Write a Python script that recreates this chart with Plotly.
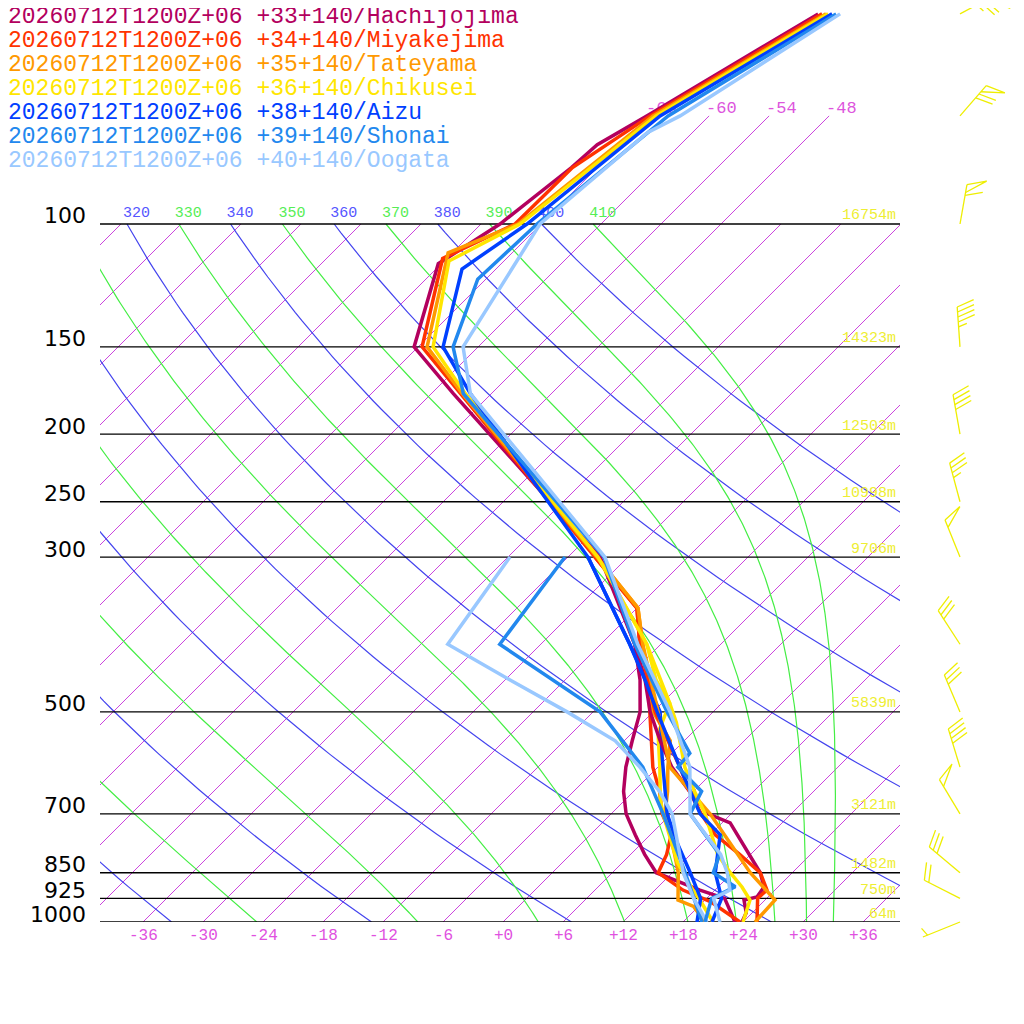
import numpy as np
import plotly.graph_objects as go

SKEW = 69.8
def sx(T, p):
    return np.asarray(T, float) + SKEW*np.log10(1000.0/np.asarray(p, float))

names = ["Hachijojima","Miyakejima","Tateyama","Chikusei","Aizu","Shonai","Oogata"]
codes = ["+33+140","+34+140","+35+140","+36+140","+38+140","+39+140","+40+140"]
colors = ["#b3005e","#ff3300","#ff9900","#ffe600","#0040ff","#2288ee","#99c8ff"]

# temperature profiles (hPa, degC)
hachi_p = [1000,970,930,921,891,850,721,700,650,600,550,500,450,400,350,300,175,150,114,100,83,77,70,50]
hachi_t = [23.9,23.4,21.9,22.9,22.6,20.8,12.8,9.7,5.6,1.4,-2.4,-6.3,-10.0,-14.6,-20.1,-26.8,-57.8,-66.4,-72.3,-70.1,-68.6,-68.3,-66.2,-59.3]
miya_p = [1000,925,900,850,800,750,700,650,600,550,500,450,400,355,300,170,150,112,100,83,70,50]
miya_t = [25.4,23.1,23.2,20.8,16.9,12.5,9.0,5.6,2.2,-1.6,-5.8,-9.7,-14.1,-18.0,-27.3,-58.6,-65.6,-72.4,-68.6,-68.5,-65.9,-58.9]
tate_p = [1000,930,850,700,600,500,400,355,300,175,150,110,100,70,50]
tate_t = [25.2,25.0,19.8,9.9,1.2,-5.5,-13.8,-17.9,-27.1,-56.9,-65.1,-72.4,-68.3,-65.6,-58.5]
chiku_p = [1000,930,891,850,800,700,650,600,518,486,450,400,300,175,150,113,100,70,50]
chiku_t = [24.0,22.5,20.4,17.8,14.7,9.4,6.1,2.7,-2.6,-5.2,-8.9,-13.4,-27.0,-56.6,-64.5,-71.5,-68.1,-65.3,-58.3]
aizu_p = [1000,925,850,750,700,600,500,450,400,300,175,150,116,100,70,50]
aizu_t = [20.9,19.5,16.3,13.0,8.9,2.2,-5.6,-10.0,-15.1,-28.0,-56.1,-63.5,-69.4,-67.4,-64.9,-57.9]
shon_p = [1000,925,890,850,800,700,650,600,573,500,400,300,175,150,120,100,70,50]
shon_t = [20.2,18.5,19.7,16.1,14.9,7.9,6.8,2.0,1.8,-4.6,-14.6,-26.4,-56.8,-62.5,-66.8,-66.4,-64.1,-57.5]
ooga_p = [1000,925,900,850,800,700,600,500,400,300,175,150,100,74,70,50]
ooga_t = [21.7,18.7,19.5,17.5,15.0,7.9,3.2,-4.3,-14.3,-26.3,-56.1,-61.5,-66.1,-64.5,-62.9,-57.1]

# dewpoint profiles (hPa, degC)
hachi_dp = [1000,925,900,850,800,750,700,650,600,550,500,450,400,300]
hachi_td = [23.2,19.8,16.5,10.4,7.4,4.5,1.5,-1.0,-3.2,-5.2,-7.3,-10.5,-14.6,-26.8]
miya_dp = [1000,935,900,850,800,750,700,650,600,500,450,400,355,300]
miya_td = [23.7,18.7,14.8,10.6,9.6,8.1,5.1,2.6,-0.5,-6.3,-9.7,-14.1,-18.0,-27.3]
tate_dp = [1000,950,930,850,800,700,650,600,550,500,400,355,300]
tate_td = [20.2,17.5,15.3,12.6,10.4,5.4,3.4,1.0,-1.4,-6.0,-13.8,-17.9,-27.1]
chiku_dp = [1000,930,900,822,700,668,600,536,486,400,300]
chiku_td = [21.0,17.5,15.8,11.5,5.2,3.5,0.2,-3.4,-5.2,-13.4,-27.0]
aizu_dp = [1000,925,850,772,700,580,500,400,300]
aizu_td = [19.4,17.4,13.8,9.6,5.6,-0.6,-5.3,-15.1,-28.0]
shon_dp = [1000,925,850,700,600,500,400,300]
shon_td = [19.9,16.7,13.3,5.2,-1.5,-11.3,-28.1,-30.3]
ooga_dp = [1000,925,850,700,650,600,550,500,450,400,300]
ooga_td = [20.4,16.7,13.1,6.1,2.6,-1.8,-6.9,-14.6,-23.5,-33.3,-35.8]

T_P = [hachi_p,miya_p,tate_p,chiku_p,aizu_p,shon_p,ooga_p]
T_V = [hachi_t,miya_t,tate_t,chiku_t,aizu_t,shon_t,ooga_t]
D_P = [hachi_dp,miya_dp,tate_dp,chiku_dp,aizu_dp,shon_dp,ooga_dp]
D_V = [hachi_td,miya_td,tate_td,chiku_td,aizu_td,shon_td,ooga_td]

std_levels = [100,150,200,250,300,500,700,850,925,1000]
heights = ["16754m","14323m","12503m","10998m","9706m","5839m","3121m","1482m","750m","64m"]
t_ticks = [-36,-30,-24,-18,-12,-6,0,6,12,18,24,30,36]
iso_labels = [-66,-60,-54,-48]
dry_thetas = list(range(200,420,20))
moist_thetas = list(range(190,430,20))

wind_p = [50,70,100,150,200,250,300,400,500,600,700,850,925,1000]
wind_dir = [62,41,10,356,350,345,338,327,337,343,329,310,297,248]
wind_kt = [75,70,60,45,40,35,50,30,30,40,50,30,20,5]

OFF, W = 8, 1008
def px(P): return (P - OFF)/W
def py(P): return 1 - (P - OFF)/W
def ypix(p): return 224 + 698*(np.log10(p) - 2)

fig = go.Figure()
pp = np.logspace(np.log10(1000), np.log10(100), 80)

for T in range(-120, 46, 6):
    ptop = 70 if -66 <= T <= -48 else 100
    pl = np.logspace(3, np.log10(ptop), 40)
    fig.add_trace(go.Scatter(x=sx(T, pl), y=pl, mode="lines", line=dict(color="#cc44dd", width=1), hoverinfo="skip"))
for th in dry_thetas:
    T = th*(pp/1000.0)**0.2857 - 273.15
    fig.add_trace(go.Scatter(x=sx(T, pp), y=pp, mode="lines", line=dict(color="#4444ee", width=1.2), hoverinfo="skip"))
Rd, Cp, Lv, eps = 287.04, 1005.7, 2.501e6, 0.622
def rs(T, p):
    es = 6.112*np.exp(17.67*(T-273.15)/(T-29.65))
    return eps*es/(p-es)
def dTdp(T, p):
    r = rs(T, p)
    return (1.0/p)*(Rd*T + Lv*r)/(Cp + Lv*Lv*r*eps/(Rd*T*T))
for th in moist_thetas:
    T = th*(0.1)**0.2857
    ps = [100.0]; Ts = [T]
    p = 100.0
    while p < 1000:
        dp = min(2.0, 1000 - p)
        k1 = dTdp(T, p); k2 = dTdp(T + 0.5*dp*k1, p + 0.5*dp)
        k3 = dTdp(T + 0.5*dp*k2, p + 0.5*dp); k4 = dTdp(T + dp*k3, p + dp)
        T += dp*(k1 + 2*k2 + 2*k3 + k4)/6; p += dp
        ps.append(p); Ts.append(T)
    ps = np.array(ps); Ts = np.array(Ts) - 273.15
    fig.add_trace(go.Scatter(x=sx(Ts, ps), y=ps, mode="lines", line=dict(color="#44ee44", width=1.2), hoverinfo="skip"))
for p in std_levels:
    fig.add_trace(go.Scatter(x=[-40.3, 39.7], y=[p, p], mode="lines", line=dict(color="black", width=1.3), hoverinfo="skip"))

ylab = 10**(2 - 11/698)
for ths, col in ((dry_thetas, "#5555ff"), (moist_thetas, "#55ee55")):
    for th in ths:
        T = th*0.1**0.2857 - 273.15
        fig.add_trace(go.Scatter(x=[sx(T, 100)-0.4], y=[ylab], mode="text", text=[str(th)], textposition="middle right",
                                 textfont=dict(family="Liberation Mono", size=15, color=col), hoverinfo="skip"))
for T in iso_labels:
    fig.add_trace(go.Scatter(x=[sx(T, 70)-0.3], y=[68.3], mode="text", text=["-%d" % (-T)],
                             textposition="middle right", textfont=dict(family="Liberation Mono", size=17, color="#dd55dd"), hoverinfo="skip"))

for i in range(7):
    fig.add_trace(go.Scatter(x=sx(D_V[i], D_P[i]), y=D_P[i], mode="lines", line=dict(color=colors[i], width=3.5), hoverinfo="skip"))
for i in range(7):
    fig.add_trace(go.Scatter(x=sx(T_V[i], T_P[i]), y=T_P[i], mode="lines", line=dict(color=colors[i], width=3.5), hoverinfo="skip"))

bx, by = [], []
for p, d, s in zip(wind_p, wind_dir, wind_kt):
    a = np.radians(d)
    x0, y0 = 960.0, ypix(p)
    u = np.array([np.sin(a), -np.cos(a)])
    b = np.radians(70)
    v = np.array([u[0]*np.cos(b) - u[1]*np.sin(b), u[0]*np.sin(b) + u[1]*np.cos(b)])
    tip = np.array([x0, y0]) + 40*u
    bx += [x0, tip[0], None]; by += [y0, tip[1], None]
    pos = tip.copy(); rem = s
    while rem >= 50:
        q = pos + 20*v; r = pos - 8*u
        bx += [pos[0], q[0], r[0], None]; by += [pos[1], q[1], r[1], None]
        pos = r - 3*u; rem -= 50
    while rem >= 10:
        q = pos + 18*v
        bx += [pos[0], q[0], None]; by += [pos[1], q[1], None]
        pos = pos - 5*u; rem -= 10
    if rem >= 5:
        if s < 10:
            pos = pos - 5*u
        q = pos + 9*v
        bx += [pos[0], q[0], None]; by += [pos[1], q[1], None]
fig.add_trace(go.Scatter(x=bx, y=by, mode="lines", line=dict(color="#eeee00", width=1.3), xaxis="x2", yaxis="y2", hoverinfo="skip"))

ann = []
for i in range(7):
    ann.append(dict(xref="paper", yref="paper", x=px(6), y=py(17+24*i), xanchor="left", yanchor="middle", showarrow=False,
                    text="20260712T1200Z+06 %s/%s" % (codes[i], names[i]), font=dict(family="Liberation Mono", size=23, color=colors[i])))
for p, h in zip(std_levels, heights):
    yp = ypix(p)
    ann.append(dict(xref="paper", yref="paper", x=px(88), y=py(yp-8), xanchor="right", yanchor="middle", showarrow=False,
                    text=str(p), font=dict(family="DejaVu Sans", size=22, color="black")))
    ann.append(dict(xref="paper", yref="paper", x=px(898), y=py(yp-8), xanchor="right", yanchor="middle", showarrow=False,
                    text=h, font=dict(family="Liberation Mono", size=15, color="#eeee33")))
for T in t_ticks:
    ann.append(dict(xref="paper", yref="paper", x=px(503+10*T), y=py(936), xanchor="center", yanchor="middle", showarrow=False,
                    text=("+%d" % T) if T >= 0 else ("-%d" % -T), font=dict(family="Liberation Mono", size=16, color="#e050e0")))

ytop = 2 - (224 - OFF)/698
fig.update_layout(
    width=W, height=W, margin=dict(l=0, r=0, t=0, b=0), paper_bgcolor="white", plot_bgcolor="rgba(0,0,0,0)",
    showlegend=False, annotations=ann,
    xaxis=dict(domain=[px(100), px(900)], range=[-40.3, 39.7], showgrid=False, zeroline=False, showticklabels=False, ticks=""),
    yaxis=dict(domain=[1-(922-OFF)/W, 1], type="log", range=[3, ytop], showgrid=False, zeroline=False, showticklabels=False, ticks=""),
    xaxis2=dict(domain=[0, 1], range=[OFF, OFF+W], visible=False, anchor="y2"),
    yaxis2=dict(domain=[0, 1], range=[OFF+W, OFF], visible=False, anchor="x2"),
)
fig.write_html("out.html")
